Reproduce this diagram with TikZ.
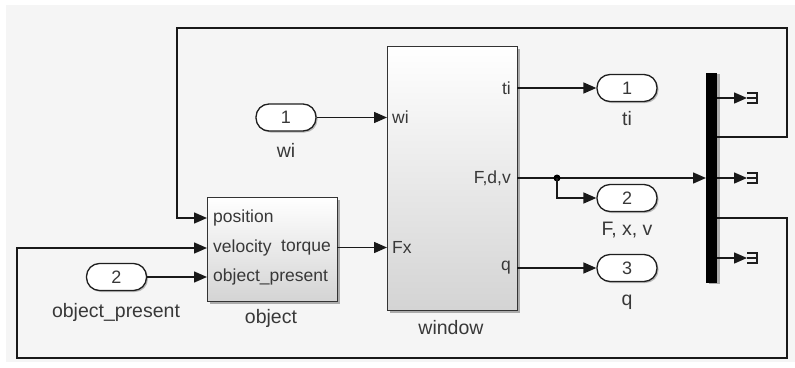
\documentclass[tikz,border=0pt]{standalone}
\usepackage{fontspec}
\setmainfont{Liberation Sans}
\usetikzlibrary{arrows.meta,shadows,calc}
\definecolor{bg}{HTML}{F5F5F5}
\definecolor{txt}{HTML}{383838}
\begin{document}
\begin{tikzpicture}[x=1pt,y=-1pt,
  wire/.style={line width=1.5pt, draw=black!90},
  arr/.style={wire,-{Triangle[length=13pt,width=11pt]}},
  blk/.style={draw=black!80, line width=1.2pt, top color=white, bottom color=black!17,
    inner sep=0pt, anchor=north west,
    drop shadow={shadow xshift=2.5pt,shadow yshift=-2.5pt,opacity=0.3,fill=black}},
  portblk/.style={draw=black!88, line width=1.3pt, fill=white, rounded corners=13pt,
    minimum width=60pt, minimum height=27pt, inner sep=0pt,
    font=\fontsize{18}{20}\selectfont, text=txt,
    drop shadow={shadow xshift=1.5pt,shadow yshift=-1.5pt,opacity=0.25,fill=black}},
  lab/.style={font=\fontsize{19.5}{22}\selectfont, text=txt, inner sep=0pt},
  plab/.style={font=\fontsize{17.5}{20}\selectfont, text=txt, inner sep=0pt},
  termsym/.style={line width=1.2pt, draw=black!88},
]
% background
\fill[white] (0,0) rectangle (795,367);
\fill[bg] (6,5) rectangle (795,362);
\useasboundingbox (0,0) rectangle (795,367);

% blocks
\node[blk, minimum width=130pt, minimum height=104pt] (obj) at (207,197) {};
\node[blk, minimum width=130pt, minimum height=264pt] (win) at (387,46) {};
\node[fill=black, minimum width=11pt, minimum height=210pt, inner sep=0pt, anchor=north west,
  drop shadow={shadow xshift=2.5pt,shadow yshift=-1pt,opacity=0.3,fill=black}] (bar) at (706,73) {};

% inports / outports
\node[portblk] (in1) at (286,117.5) {1};
\node[portblk] (in2) at (116.5,277) {2};
\node[portblk] (out1) at (627,88) {1};
\node[portblk] (out2) at (627,198) {2};
\node[portblk] (out3) at (627,268) {3};

% block labels
\node[lab] (l-wi) at (286,150) {wi};
\node[lab] (l-op) at (116,312) {object\_present};
\node[lab] (l-obj) at (271,318) {object};
\node[lab] (l-win) at (451,328) {window};
\node[lab] (l-ti) at (627,119) {ti};
\node[lab] (l-fxv) at (627,230) {F, x, v};
\node[lab] (l-q) at (627,302) {q};

% port coordinates
\coordinate (o-pos) at (207,218);
\coordinate (o-vel) at (207,248);
\coordinate (o-op)  at (207,277);
\coordinate (o-tq)  at (337,247.5);
\coordinate (w-wi)  at (387,117.5);
\coordinate (w-fx)  at (387,247.5);
\coordinate (w-ti)  at (517,88);
\coordinate (w-fdv) at (517,178);
\coordinate (w-q)   at (517,268);
\coordinate (b-in)  at (706,178);
\coordinate (b-o1)  at (717,137);
\coordinate (b-o2)  at (717,218);
\coordinate (t1) at (747,98);
\coordinate (t2) at (747,178);
\coordinate (t3) at (747,258);
\coordinate (c1) at (787,137);
\coordinate (c2) at (787,28);
\coordinate (c3) at (177,28);
\coordinate (c4) at (177,218);
\coordinate (d1) at (787,218);
\coordinate (d2) at (787,358);
\coordinate (d3) at (17,358);
\coordinate (d4) at (17,248);

% port labels inside blocks
\node[plab, anchor=west] (p-pos) at (213,218) {position};
\node[plab, anchor=west] (p-vel) at (213,248) {velocity};
\node[plab, anchor=east] (p-tq)  at (331,248) {torque};
\node[plab, anchor=west] (p-op)  at (213,277) {object\_present};
\node[plab, anchor=west] (p-wi)  at (392,117.5) {wi};
\node[plab, anchor=west] (p-fx)  at (392,247.5) {Fx};
\node[plab, anchor=east] (p-ti)  at (511,88) {ti};
\node[plab, anchor=east] (p-fdv) at (511,178) {F,d,v};
\node[plab, anchor=east] (p-q)   at (511,268) {q};

% connectors
\draw[arr] (in1.east) -- (w-wi);
\draw[arr] (in2.east) -- (o-op);
\draw[arr] (o-tq) -- (w-fx);
\draw[arr] (w-ti) -- (out1.west);
\draw[arr] (w-q) -- (out3.west);
\draw[arr] (w-fdv) -- (b-in);
\node[circle, fill=black, inner sep=0pt, minimum size=7pt] (dot) at (557,178) {};
\draw[arr] (dot.center) |- (out2.west);
\draw[arr] (b-o1) -- (c1) -- (c2) -- (c3) -- (c4) -- (o-pos);
\draw[arr] (b-o2) -- (d1) -- (d2) -- (d3) -- (d4) -- (o-vel);

% demux outputs to terminators
\foreach \t in {t1,t2,t3}{
  \draw[arr] (bar.east |- \t) -- (\t);
  \draw[termsym] ($(\t)+(0,-5)$) -- ++(10,0) -- ++(0,10) -- ++(-10,0);
  \draw[termsym] (\t) -- ++(10,0);
}
\end{tikzpicture}
\end{document}
